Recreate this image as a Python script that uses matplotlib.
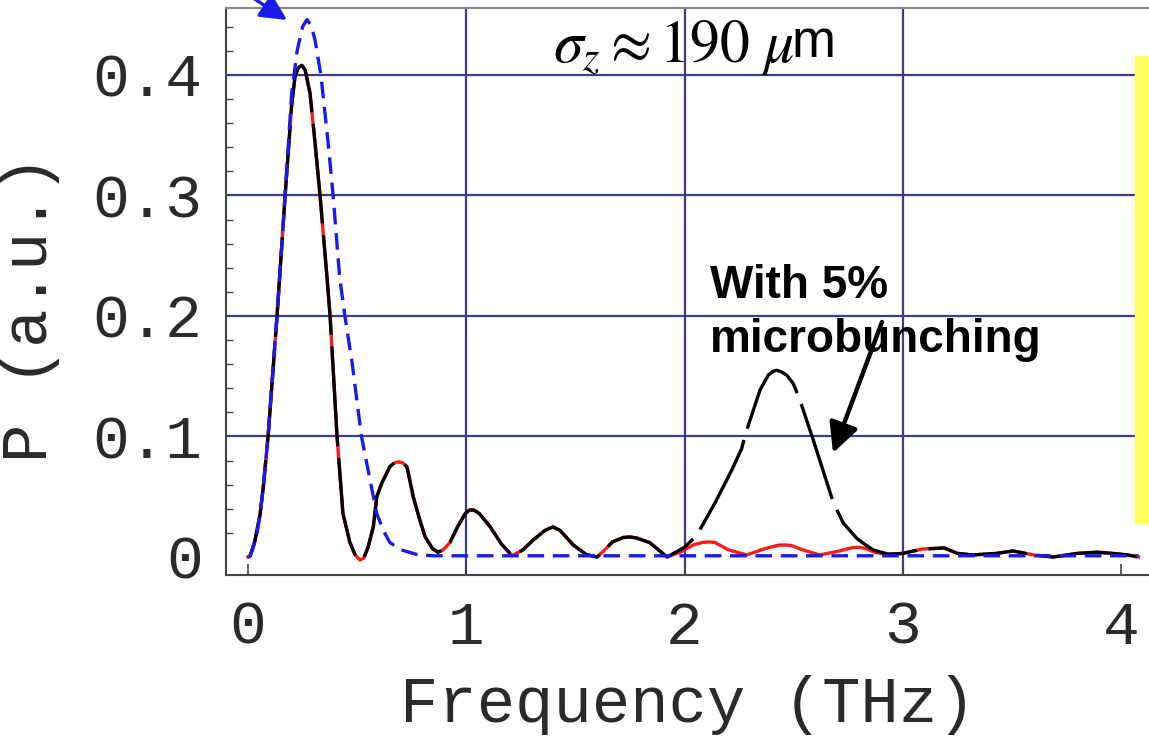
import matplotlib
matplotlib.use("Agg")
import matplotlib.pyplot as plt
from matplotlib.patches import Rectangle, FancyArrowPatch

plt.rcParams['mathtext.fontset'] = 'stix'

# Coherent radiation spectrum: single-bunch form factor (blue), bunch train (red),
# bunch train with 5% microbunching (black)
f_gauss = [0.00, 0.01, 0.03, 0.04, 0.055, 0.07, 0.092, 0.11, 0.133, 0.15, 0.17, 0.20,
           0.225, 0.25, 0.27, 0.29, 0.307, 0.334, 0.367, 0.39, 0.42, 0.444, 0.477, 0.52,
           0.559, 0.59, 0.62, 0.65, 0.70, 0.775, 0.85, 1.5, 2.5, 3.5, 4.08]
p_gauss = [0.000, 0.001, 0.012, 0.018, 0.035, 0.058, 0.100, 0.145, 0.200, 0.245, 0.300, 0.385,
           0.420, 0.440, 0.446, 0.441, 0.429, 0.400, 0.344, 0.300, 0.232, 0.200, 0.161, 0.100,
           0.064, 0.036, 0.022, 0.012, 0.006, 0.002, 0.001, 0.001, 0.001, 0.001, 0.001]

# shared low-frequency part of the train spectrum
f_low = [0.00, 0.01, 0.03, 0.055, 0.07, 0.092, 0.133, 0.17, 0.20, 0.215, 0.23, 0.247, 0.262,
         0.284, 0.307, 0.33, 0.362, 0.376, 0.408, 0.435, 0.467, 0.49, 0.513, 0.53, 0.55, 0.574,
         0.59, 0.612, 0.65, 0.67, 0.689, 0.71, 0.7285, 0.757, 0.785, 0.811, 0.845, 0.87, 0.895,
         0.925, 0.96, 0.995, 1.015, 1.035, 1.06, 1.11, 1.16, 1.21, 1.26, 1.306, 1.36, 1.397,
         1.43, 1.49, 1.55, 1.60, 1.635, 1.67, 1.72, 1.75, 1.78, 1.84, 1.92]
p_low = [0.000, 0.001, 0.012, 0.035, 0.058, 0.100, 0.200, 0.300, 0.375, 0.398, 0.406, 0.408, 0.404,
         0.385, 0.344, 0.300, 0.232, 0.200, 0.100, 0.036, 0.012, 0.002, -0.0025, -0.001, 0.008, 0.025,
         0.050, 0.061, 0.075, 0.078, 0.079, 0.078, 0.0747, 0.050, 0.032, 0.017, 0.007, 0.004, 0.006,
         0.012, 0.025, 0.036, 0.039, 0.039, 0.036, 0.025, 0.011, 0.001, 0.006, 0.014, 0.022, 0.025,
         0.022, 0.010, 0.002, 0.000, 0.006, 0.0125, 0.0162, 0.0166, 0.0158, 0.012, 0.000]

# 2-3 THz region without microbunching
f_mid_red = [1.98, 2.04, 2.08, 2.11, 2.14, 2.20, 2.285, 2.37, 2.43, 2.46, 2.49, 2.54, 2.62,
             2.71, 2.77, 2.80, 2.83, 2.87, 2.93]
p_mid_red = [0.004, 0.010, 0.012, 0.0125, 0.012, 0.006, 0.0017, 0.007, 0.0098, 0.010, 0.0095,
             0.006, 0.0017, 0.005, 0.0078, 0.008, 0.007, 0.004, 0.002]

# 2-3 THz region with microbunching
f_mid_blk = [2.00, 2.056, 2.14, 2.216, 2.262, 2.277, 2.346, 2.384, 2.405, 2.422, 2.44, 2.468,
             2.498, 2.529, 2.59, 2.659, 2.682, 2.728, 2.789, 2.83, 2.865, 2.93]
p_mid_blk = [0.008, 0.018, 0.045, 0.072, 0.090, 0.101, 0.1386, 0.151, 0.154, 0.155, 0.154, 0.151,
             0.144, 0.130, 0.097, 0.058, 0.045, 0.028, 0.0155, 0.010, 0.0058, 0.0025]

# high-frequency tail
f_tail = [2.957, 3.00, 3.09, 3.19, 3.25, 3.32, 3.43, 3.505, 3.60, 3.69, 3.80, 3.89, 3.96, 4.03, 4.08]
p_tail = [0.0025, 0.003, 0.0066, 0.0075, 0.003, 0.0017, 0.003, 0.005, 0.0017, 0.000, 0.003,
          0.004, 0.003, 0.0017, 0.000]

x_ticks = [0, 1, 2, 3, 4]
y_ticks = [0, 0.1, 0.2, 0.3, 0.4]
y_tick_labels = ['0', '0.1', '0.2', '0.3', '0.4']
x_grid = [1, 2, 3]
y_grid = [0.1, 0.2, 0.3, 0.4]

f_red = f_low + f_mid_red + f_tail
p_red = p_low + p_mid_red + p_tail
f_blk = f_low + f_mid_blk + f_tail
p_blk = p_low + p_mid_blk + p_tail

W, H = 1149, 736
fig = plt.figure(figsize=(W / 100, H / 100), dpi=100)
ax = fig.add_axes([226 / W, 1 - 575 / H, (W - 226) / W, (575 - 8) / H])

x0, x1 = -0.1008, 4.128
y0, y1 = -0.01494, 0.4556
ax.set_xlim(x0, x1)
ax.set_ylim(y0, y1)

grid_col = '#3c3c8f'
ax.hlines(y_grid, x0, x1, colors=grid_col, lw=1.6, zorder=1)
ax.vlines(x_grid, y0, y1, colors=grid_col, lw=1.6, zorder=1)

ax.plot(f_red, p_red, color='#ff1a1a', lw=2.4, zorder=3, solid_joinstyle='round')
ax.plot(f_blk, p_blk, color='black', lw=2.4, zorder=4, dashes=(30, 3.5),
        dash_joinstyle='round')
ax.plot(f_gauss, p_gauss, color='#1a1aee', lw=2.4, zorder=5, dashes=(5, 2.6))

for s in ['left', 'bottom']:
    ax.spines[s].set_color('#444444')
    ax.spines[s].set_linewidth(1.5)
ax.spines['top'].set_color('#888888')
ax.spines['top'].set_linewidth(1.5)
ax.spines['right'].set_visible(False)

mono = 'Liberation Mono'
ax.set_xticks(x_ticks)
ax.set_xticklabels([str(t) for t in x_ticks], fontfamily=mono, fontsize=44, color='#2a2a2a')
ax.set_yticks(y_ticks)
ax.set_yticklabels(y_tick_labels, fontfamily=mono, fontsize=44, color='#2a2a2a')
ax.set_yticks([i * 0.02 for i in range(23)], minor=True)
ax.tick_params(axis='y', which='major', direction='in', length=0, pad=17)
ax.tick_params(axis='y', which='minor', direction='in', length=5, width=1, color='#444444')
ax.tick_params(axis='x', which='major', direction='in', length=8, width=1.2,
               color='#444444', pad=18)

ax.set_xlabel('Frequency (THz)', fontfamily=mono, fontsize=46, color='#2a2a2a', va='center')
ax.set_ylabel('P (a.u.)', fontfamily=mono, fontsize=46, color='#2a2a2a', va='center')
ax.xaxis.set_label_coords((688 - 226) / (W - 226), -(705 - 575) / (575 - 8))
ax.yaxis.set_label_coords(-(226 - 30) / (W - 226), (575 - 308) / (575 - 8))

# bunch length label
fig.text(553 / W, 1 - 62 / H, r'$\sigma_z \approx 190\ \mu$', fontsize=43, ha='left',
         va='baseline', color='black')
fig.text(792 / W, 1 - 57 / H, 'm', fontfamily='Liberation Sans', fontsize=38, ha='left',
         va='baseline', color='black')

# microbunching annotation
fig.text(710 / W, 1 - 298 / H, 'With 5%', fontfamily='Liberation Sans', fontweight='bold',
         fontsize=33, ha='left', va='baseline')
fig.text(710 / W, 1 - 352 / H, 'microbunching', fontfamily='Liberation Sans', fontweight='bold',
         fontsize=33, ha='left', va='baseline')
fig.add_artist(FancyArrowPatch(
    (882 / W, 1 - 322 / H), (833 / W, 1 - 453 / H), transform=fig.transFigure,
    arrowstyle='-|>', color='black', lw=3.2, mutation_scale=45, shrinkA=0, shrinkB=0))

# arrow pointing at the single-bunch peak
fig.add_artist(FancyArrowPatch(
    (250 / W, 1 + 4 / H), (287 / W, 1 - 20 / H), transform=fig.transFigure,
    arrowstyle='-|>', color='#1a1aee', lw=2.4, mutation_scale=40, shrinkA=0, shrinkB=0))

# yellow side bar
fig.add_artist(Rectangle((1135 / W, 1 - 523 / H), 14 / W, (523 - 56) / H,
                         transform=fig.transFigure, color='#ffff5e', zorder=10))

fig.savefig('out.png', dpi=100)
